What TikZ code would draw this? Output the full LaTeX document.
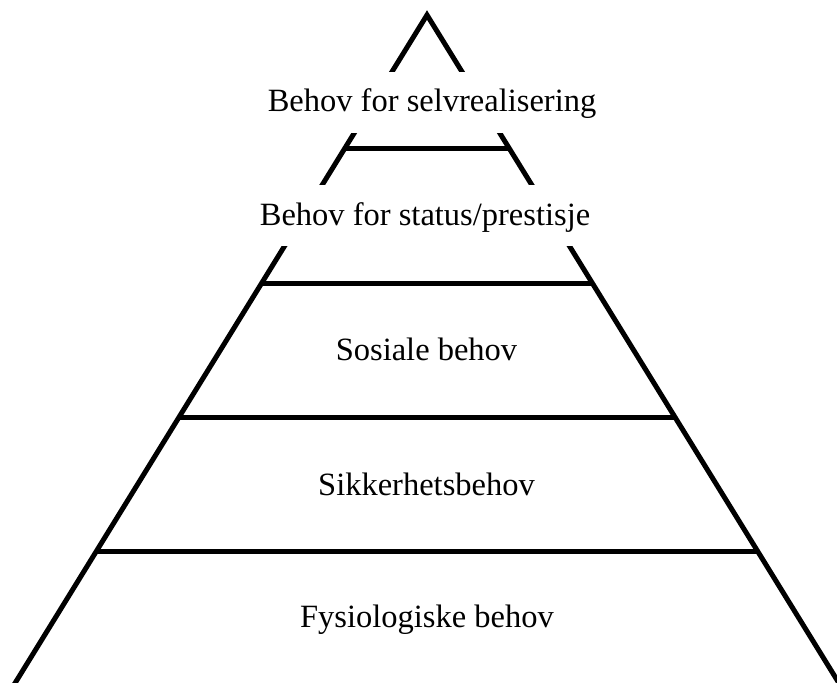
\documentclass[tikz,border=0pt]{standalone}
\usepackage{fontspec}
\setmainfont{Liberation Serif}
\usetikzlibrary{calc}
\begin{document}
\begin{tikzpicture}[x=1pt,y=-1pt,
  edge/.style={line width=5pt,line join=miter,black},
  level/.style={line width=5pt,black},
  lab/.style={fill=white,inner xsep=2pt,inner ysep=0pt,text height=40pt,text depth=21pt,anchor=base,
    font=\fontsize{32.5}{37}\selectfont}]
\useasboundingbox (0,0) rectangle (837,682);
\clip (0,0) rectangle (837,682);
\coordinate (apex) at (427,15);
\coordinate (bl) at (10.8,690);
\coordinate (br) at (843.2,690);
\draw[edge] (bl) -- (apex) -- (br);
% horizontal levels: t = (y-15)/675
\coordinate (l1) at ($(apex)!{(148-15)/675}!(bl)$);
\coordinate (r1) at ($(apex)!{(148-15)/675}!(br)$);
\coordinate (l2) at ($(apex)!{(283-15)/675}!(bl)$);
\coordinate (r2) at ($(apex)!{(283-15)/675}!(br)$);
\coordinate (l3) at ($(apex)!{(417-15)/675}!(bl)$);
\coordinate (r3) at ($(apex)!{(417-15)/675}!(br)$);
\coordinate (l4) at ($(apex)!{(551-15)/675}!(bl)$);
\coordinate (r4) at ($(apex)!{(551-15)/675}!(br)$);
\draw[level] (l1) -- (r1);
\draw[level] (l2) -- (r2);
\draw[level] (l3) -- (r3);
\draw[level] (l4) -- (r4);
\node[lab] (t1) at (432,112) {Behov for selvrealisering};
\node[lab] (t2) at (425,225) {Behov for status/prestisje};
\node[lab] (t3) at (426.5,360) {Sosiale behov};
\node[lab] (t4) at (426.5,495) {Sikkerhetsbehov};
\node[lab] (t5) at (427,627) {Fysiologiske behov};
\end{tikzpicture}
\end{document}
